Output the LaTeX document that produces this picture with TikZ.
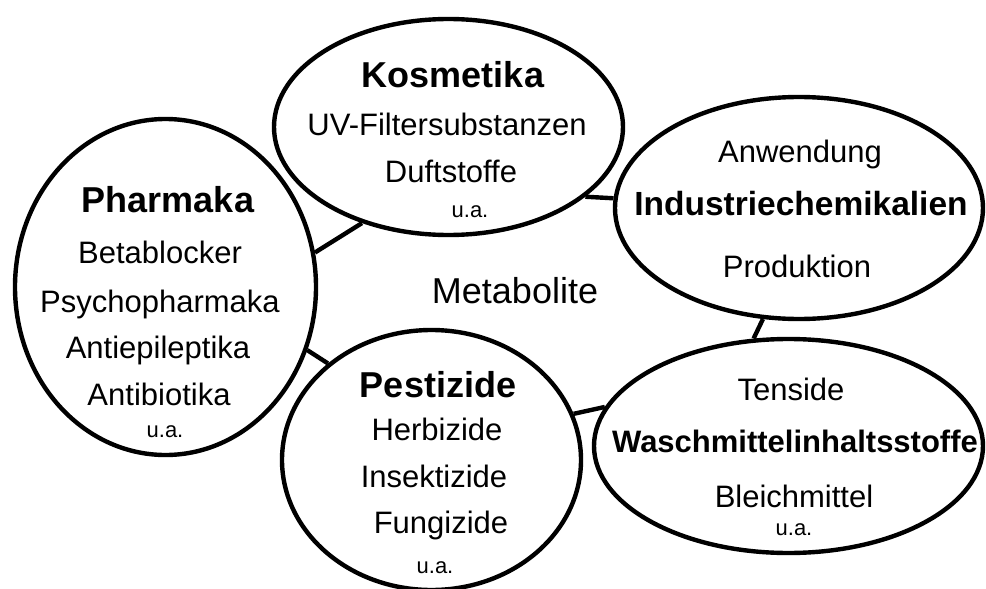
\documentclass[tikz,border=0pt]{standalone}
\usepackage{fontspec}
\setmainfont{Liberation Sans}
\usetikzlibrary{shapes.geometric}

\tikzset{
  blob/.style={ellipse, draw=black, line width=2.2pt, fill=white, inner sep=0pt},
  ring/.style={line width=2.2pt},
  head/.style={font=\fontsize{18}{20}\selectfont\bfseries, anchor=base, inner sep=0pt},
  item/.style={font=\fontsize{15.5}{18}\selectfont, anchor=base, inner sep=0pt},
  etc/.style={font=\fontsize{11}{13}\selectfont, anchor=base, inner sep=0pt}
}

\begin{document}
\begin{tikzpicture}[x=0.5pt, y=-0.5pt]
    \useasboundingbox (0,0) rectangle (986,589);
    % the five groups
    \foreach \n/\x/\y/\w/\h in {
      kosm/448.5/127/174.5/108,
      pharma/165.5/287/150.5/168,
      indu/799/208/184/111,
      pest/431.5/460/149.5/130,
      wasch/788.5/446/194.5/107}
      {
        \node[blob, minimum width=\w pt, minimum height=\h pt] (\n) at (\x,\y) {};
      }
    % ring between them
    \draw[ring] (pharma.13) -- (kosm.228);
    \draw[ring] (kosm.333) -- (indu.177);
    \draw[ring] (indu.252) -- (wasch.108);
    \draw[ring] (pest.18) -- (wasch.168);
    \draw[ring] (pharma.336) -- (pest.137);
    \node[item, font=\fontsize{18}{20}\selectfont] (meta) at (515,303) {Metabolite};
    % Kosmetika
    \node[head] (kosm-t) at (453,87)  {Kosmetika};
    \node[item] (kosm-a) at (447,135) {UV-Filtersubstanzen};
    \node[item] (kosm-b) at (451,182) {Duftstoffe};
    \node[etc]  (kosm-c) at (470,217) {u.a.};
    % Pharmaka
    \node[head] (pharma-t) at (168,212) {Pharmaka};
    \node[item] (pharma-a) at (160,263) {Betablocker};
    \node[item] (pharma-b) at (160,312) {Psychopharmaka};
    \node[item] (pharma-c) at (158,358) {Antiepileptika};
    \node[item] (pharma-d) at (159,405) {Antibiotika};
    \node[etc]  (pharma-e) at (165,437) {u.a.};
    % Pestizide
    \node[head] (pest-t) at (438,397) {Pestizide};
    \node[item] (pest-a) at (437,440) {Herbizide};
    \node[item] (pest-b) at (434,487) {Insektizide};
    \node[item] (pest-c) at (441,533) {Fungizide};
    \node[etc]  (pest-d) at (435,573) {u.a.};
    % Industriechemikalien
    \node[item] (indu-a) at (800,162) {Anwendung};
    \node[head, font=\fontsize{16.75}{19}\selectfont\bfseries] (indu-t) at (801,215) {Industriechemikalien};
    \node[item] (indu-b) at (797,277) {Produktion};
    % Waschmittel
    \node[item] (wasch-a) at (791,400) {Tenside};
    \node[head, font=\fontsize{15.5}{18}\selectfont\bfseries] (wasch-t) at (795,452) {Waschmittelinhaltsstoffe};
    \node[item] (wasch-b) at (794,507) {Bleichmittel};
    \node[etc]  (wasch-c) at (794,535) {u.a.};
\end{tikzpicture}
\end{document}
